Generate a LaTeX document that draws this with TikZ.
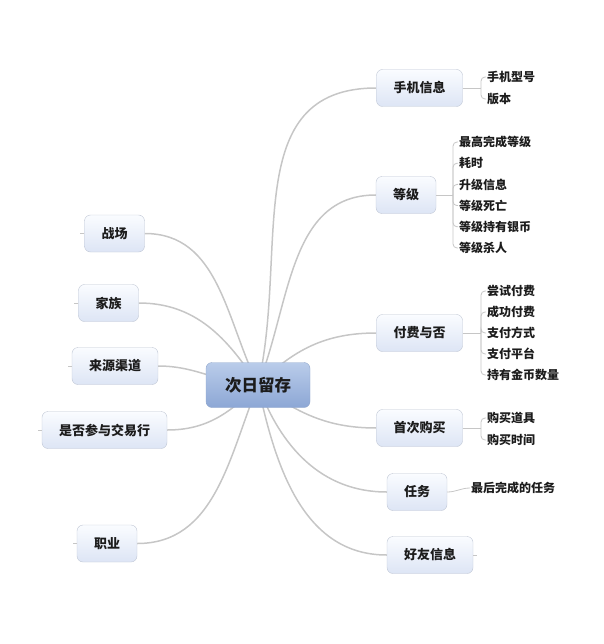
\documentclass[tikz,border=0pt]{standalone}
\usepackage{fontspec}
\setmainfont{Noto Sans CJK SC}
\usetikzlibrary{backgrounds,calc}

\definecolor{topicTop}{HTML}{FAFCFF}
\definecolor{topicBot}{HTML}{DDE5F5}
\definecolor{topicLine}{HTML}{BFC6D4}
\definecolor{rootTop}{HTML}{BACCEA}
\definecolor{rootBot}{HTML}{8CA7D5}
\definecolor{rootLine}{HTML}{93A8CC}
\definecolor{branchCol}{HTML}{C6C6C6}
\definecolor{inkCol}{HTML}{1C1C1C}

\tikzset{
  root/.style={draw=rootLine,rounded corners=6pt,top color=rootTop,
    bottom color=rootBot,minimum height=45pt,inner xsep=19pt,
    text=inkCol,font=\fontsize{16.5}{18}\selectfont\bfseries},
  topic/.style={draw=topicLine,rounded corners=6pt,top color=topicTop,
    bottom color=topicBot,minimum height=37pt,inner xsep=17pt,
    text=inkCol,font=\fontsize{13}{15}\selectfont\bfseries},
  leaf/.style={anchor=west,inner xsep=1pt,inner ysep=2pt,text=inkCol,
    font=\fontsize{12}{13}\selectfont\bfseries},
  branch/.style={draw=branchCol,line width=1.5pt},
  twig/.style={draw=branchCol,line width=0.8pt,rounded corners=4pt}
}

\begin{document}
\begin{tikzpicture}[x=1pt,y=-1pt]
  \useasboundingbox (0,0) rectangle (603,644);

  % centre
  \node[root] (root) at (258,385) {次日留存};

  % right side
  \node[topic] (phone)  at (419.5,88)  {手机信息};
  \node[topic] (level)  at (406,195)   {等级};
  \node[topic] (pay)    at (419.5,333) {付费与否};
  \node[topic] (buy)    at (419.5,428) {首次购买};
  \node[topic] (task)   at (417,492)   {任务};
  \node[topic] (friend) at (430,555)   {好友信息};

  % left side
  \node[topic] (battle) at (114.5,233.5) {战场};
  \node[topic] (clan)   at (108.5,303)   {家族};
  \node[topic] (source) at (115,366)     {来源渠道};
  \node[topic] (trade)  at (104.5,430)   {是否参与交易行};
  \node[topic] (job)    at (107,543.5)   {职业};

  % leaves
  \foreach \t [count=\i] in {手机型号,版本}
    \node[leaf] (p\i) at (486,{77+22*(\i-1)}) {\t};
  \foreach \t [count=\i] in {最高完成等级,耗时,升级信息,等级死亡,等级持有银币,等级杀人}
    \node[leaf] (l\i) at (458,{142+21.2*(\i-1)}) {\t};
  \foreach \t [count=\i] in {尝试付费,成功付费,支付方式,支付平台,持有金币数量}
    \node[leaf] (f\i) at (486,{291+21*(\i-1)}) {\t};
  \foreach \t [count=\i] in {购买道具,购买时间}
    \node[leaf] (b\i) at (486,{418+22*(\i-1)}) {\t};
  \node[leaf] (t1) at (470,488) {最后完成的任务};

  \coordinate (phone-s) at (481,88);
  \coordinate (level-s) at (453,195);
  \coordinate (pay-s)   at (481,333);
  \coordinate (buy-s)   at (481,428);
  \coordinate (friend-s) at ($(friend.east)+(4,0)$);

  \begin{scope}[on background layer]
    \draw[branch] (root.center) to[out=77,in=180,looseness=1.1] (phone.west);
    \draw[branch] (root.center) to[out=68,in=180] (level.west);
    \draw[branch] (root.center) to[out=45,in=180] (pay.west);
    \draw[branch] (root.center) to[out=-35,in=180] (buy.west);
    \draw[branch] (root.center) to[out=-70,in=180] (task.west);
    \draw[branch] (root.center) to[out=-78,in=180] (friend.west);
    \draw[branch] (root.center) to[out=116,in=0] (battle.east);
    \draw[branch] (root.center) to[out=123,in=0] (clan.east);
    \draw[branch] (root.center) to[out=178,in=0] (source.east);
    \draw[branch] (root.center) to[out=-135,in=0] (trade.east);
    \draw[branch] (root.center) to[out=-112,in=0] (job.east);
  \end{scope}

  % brackets
  \draw[twig] (phone.east) -- (phone-s);
  \foreach \i in {1,2} \draw[twig] (phone-s) |- (p\i.west);
  \draw[twig] (level.east) -- (level-s);
  \foreach \i in {1,...,6} \draw[twig] (level-s) |- (l\i.west);
  \draw[twig] (pay.east) -- (pay-s);
  \foreach \i in {1,...,5} \draw[twig] (pay-s) |- (f\i.west);
  \draw[twig] (buy.east) -- (buy-s);
  \foreach \i in {1,2} \draw[twig] (buy-s) |- (b\i.west);
  \draw[twig] (task.east) to[out=0,in=180] (t1.west);
  \draw[twig] (friend.east) -- (friend-s);

  % stubs on the left
  \foreach \n in {battle,clan,source,trade,job}
    \draw[twig] (\n.west) -- ++(-4,0);
\end{tikzpicture}
\end{document}
